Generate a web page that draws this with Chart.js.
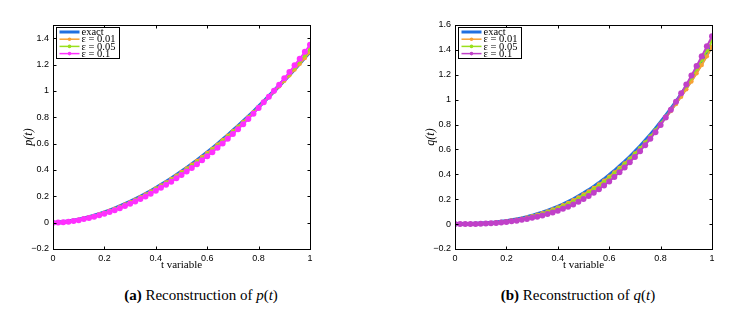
<!DOCTYPE html>
<html>
<head>
<meta charset="utf-8">
<script src="https://cdn.jsdelivr.net/npm/chart.js@4"></script>
<style>
  body { margin: 0; background: #fff; width: 753px; height: 317px; position: relative; overflow: hidden; }
  canvas { position: absolute; top: 0; }
  .cap { position: absolute; top: 287px; font-family: "Liberation Serif", "Times New Roman", serif; font-size: 15px; color: #000; white-space: nowrap; transform: translateX(-50%); }
</style>
</head>
<body>
<canvas id="chartP" width="376" height="280" style="left:0"></canvas>
<canvas id="chartQ" width="377" height="280" style="left:376px"></canvas>
<div class="cap" style="left:201px"><b>(a)</b> Reconstruction of <i>p</i>(<i>t</i>)</div>
<div class="cap" style="left:578px"><b>(b)</b> Reconstruction of <i>q</i>(<i>t</i>)</div>
<script>
// sample points in t
const tValues = [0, 0.02, 0.04, 0.06, 0.08, 0.1, 0.12, 0.14, 0.16, 0.18, 0.2, 0.22, 0.24, 0.26, 0.28, 0.3, 0.32, 0.34, 0.36, 0.38, 0.4,
  0.42, 0.44, 0.46, 0.48, 0.5, 0.52, 0.54, 0.56, 0.58, 0.6, 0.62, 0.64, 0.66, 0.68, 0.7, 0.72, 0.74, 0.76, 0.78, 0.8,
  0.82, 0.84, 0.86, 0.88, 0.9, 0.92, 0.94, 0.96, 0.98, 1];

// p(t): exact and reconstructions
const pExact = [0, 0.0014, 0.0047, 0.0095, 0.0156, 0.0231, 0.0318, 0.0417, 0.0526, 0.0647, 0.0778, 0.0919, 0.107, 0.123, 0.140, 0.158, 0.177, 0.197, 0.217, 0.239, 0.262,
  0.285, 0.309, 0.334, 0.360, 0.387, 0.414, 0.442, 0.471, 0.501, 0.532, 0.563, 0.595, 0.628, 0.662, 0.697, 0.732, 0.768, 0.804, 0.841, 0.880,
  0.919, 0.958, 0.998, 1.039, 1.081, 1.123, 1.167, 1.210, 1.255, 1.300];
const pEps001 = [0, 0.0013, 0.0045, 0.0092, 0.0152, 0.0225, 0.0310, 0.0407, 0.0514, 0.0633, 0.0762, 0.0901, 0.105, 0.121, 0.138, 0.156, 0.175, 0.194, 0.214, 0.236, 0.259,
  0.282, 0.306, 0.331, 0.357, 0.384, 0.411, 0.439, 0.468, 0.498, 0.529, 0.560, 0.592, 0.625, 0.659, 0.694, 0.729, 0.765, 0.801, 0.838, 0.877,
  0.916, 0.955, 0.995, 1.035, 1.077, 1.119, 1.162, 1.205, 1.250, 1.295];
const pEps005 = [0, 0.0014, 0.0042, 0.0086, 0.0143, 0.0213, 0.0296, 0.0390, 0.0495, 0.0611, 0.0733, 0.0869, 0.102, 0.117, 0.134, 0.151, 0.170, 0.189, 0.209, 0.230, 0.253,
  0.276, 0.299, 0.324, 0.349, 0.376, 0.402, 0.430, 0.459, 0.488, 0.519, 0.550, 0.583, 0.616, 0.650, 0.686, 0.722, 0.759, 0.796, 0.835, 0.876,
  0.916, 0.957, 0.999, 1.042, 1.087, 1.131, 1.178, 1.224, 1.272, 1.320];
const pEps01 = [0, 0.0014, 0.0037, 0.0075, 0.0126, 0.0191, 0.0268, 0.0357, 0.0456, 0.0567, 0.0678, 0.0809, 0.095, 0.110, 0.126, 0.143, 0.161, 0.180, 0.199, 0.220, 0.242,
  0.264, 0.287, 0.311, 0.336, 0.362, 0.388, 0.415, 0.444, 0.473, 0.504, 0.535, 0.568, 0.601, 0.636, 0.672, 0.709, 0.747, 0.786, 0.827, 0.870,
  0.913, 0.956, 1.001, 1.047, 1.095, 1.143, 1.194, 1.244, 1.297, 1.350];

// q(t): exact and reconstructions
const qExact = [0, 0.0001, 0.0004, 0.0011, 0.0023, 0.0041, 0.0065, 0.0096, 0.0134, 0.0182, 0.0238, 0.0303, 0.0379, 0.0464, 0.0560, 0.0668, 0.0789, 0.0919, 0.1064, 0.1220, 0.1393,
  0.1574, 0.1775, 0.1985, 0.2216, 0.2459, 0.2717, 0.2994, 0.3283, 0.3588, 0.3914, 0.4257, 0.4621, 0.4986, 0.5385, 0.5798, 0.6231, 0.6683, 0.7153, 0.7641, 0.8155,
  0.8685, 0.9231, 0.9802, 1.0398, 1.1008, 1.1642, 1.2300, 1.2982, 1.3675, 1.440];
const qEps001 = [0, 0.0001, 0.0004, 0.0010, 0.0021, 0.0038, 0.0061, 0.0090, 0.0126, 0.0172, 0.0226, 0.0288, 0.0360, 0.0441, 0.0533, 0.0637, 0.0753, 0.0878, 0.1018, 0.1169, 0.1337,
  0.1513, 0.1708, 0.1913, 0.2138, 0.2376, 0.2628, 0.2900, 0.3185, 0.3486, 0.3808, 0.4148, 0.4508, 0.4870, 0.5265, 0.5674, 0.6103, 0.6553, 0.7021, 0.7507, 0.8018,
  0.8545, 0.9088, 0.9652, 1.0240, 1.0840, 1.1465, 1.2115, 1.2790, 1.3480, 1.425];
const qEps005 = [0, 0.0001, 0.0004, 0.0011, 0.0019, 0.0037, 0.0056, 0.0083, 0.0116, 0.0160, 0.0211, 0.0267, 0.0334, 0.0410, 0.0497, 0.0596, 0.0703, 0.0820, 0.0951, 0.1094, 0.1253,
  0.1421, 0.1608, 0.1805, 0.2027, 0.2261, 0.2510, 0.2782, 0.3067, 0.3372, 0.3698, 0.4046, 0.4414, 0.4788, 0.5196, 0.5618, 0.6064, 0.6530, 0.7018, 0.7529, 0.8070,
  0.8631, 0.9209, 0.9816, 1.0452, 1.1103, 1.1782, 1.2485, 1.3212, 1.3950, 1.472];
const qEps01 = [0, 0.0001, 0.0004, 0.0011, 0.0013, 0.0031, 0.0045, 0.0066, 0.0094, 0.0132, 0.0178, 0.0223, 0.0279, 0.0344, 0.0420, 0.0508, 0.0599, 0.0699, 0.0814, 0.0940, 0.1083,
  0.1234, 0.1405, 0.1585, 0.1796, 0.2019, 0.2257, 0.2524, 0.2803, 0.3108, 0.3434, 0.3787, 0.4161, 0.4546, 0.4965, 0.5398, 0.5861, 0.6343, 0.6853, 0.7391, 0.7965,
  0.8565, 0.9181, 0.9832, 1.0518, 1.1218, 1.1952, 1.2710, 1.3492, 1.4285, 1.510];

// ticks and labels
const xTicks = [0, 0.2, 0.4, 0.6, 0.8, 1];
const yTicksP = [-0.2, 0, 0.2, 0.4, 0.6, 0.8, 1, 1.2, 1.4];
const yTicksQ = [-0.2, 0, 0.2, 0.4, 0.6, 0.8, 1, 1.2, 1.4, 1.6];
const seriesLabels = ['exact', 'ε = 0.01', 'ε = 0.05', 'ε = 0.1'];

const tickFont = { family: '"Liberation Sans", Arial, sans-serif', size: 9 };
const serif = '"Liberation Serif", "Times New Roman", serif';

function fmt(v) {
  const r = Math.round(v * 10) / 10;
  return r < 0 ? '\u2212' + Math.abs(r) : String(r);
}

function toPoints(ys) {
  return ys.map((y, i) => ({ x: tValues[i], y: y }));
}

// box, inward tick marks and legend drawn like a matlab figure
const framePlugin = {
  id: 'frame',
  afterDraw(chart) {
    const { ctx, chartArea: a, scales } = chart;
    const L = Math.round(a.left) + 0.5, R = Math.round(a.right) + 0.5;
    const T = Math.round(a.top) + 0.5, B = Math.round(a.bottom) + 0.5;
    ctx.save();
    ctx.strokeStyle = '#000';
    ctx.lineWidth = 1;
    ctx.strokeRect(L, T, R - L, B - T);
    ctx.beginPath();
    scales.x.ticks.forEach(t => {
      const x = Math.round(scales.x.getPixelForValue(t.value)) + 0.5;
      ctx.moveTo(x, B); ctx.lineTo(x, B - 3);
      ctx.moveTo(x, T); ctx.lineTo(x, T + 3);
    });
    scales.y.ticks.forEach(t => {
      const y = Math.round(scales.y.getPixelForValue(t.value)) + 0.5;
      ctx.moveTo(L, y); ctx.lineTo(L + 3, y);
      ctx.moveTo(R, y); ctx.lineTo(R - 3, y);
    });
    ctx.stroke();

    // legend
    const bx = L + 3, by = T + 2, bw = 63, bh = 31;
    ctx.fillStyle = '#fff';
    ctx.fillRect(bx, by, bw, bh);
    ctx.strokeRect(bx, by, bw, bh);
    ctx.font = '10.5px ' + serif;
    ctx.textBaseline = 'middle';
    chart.data.datasets.forEach((ds, i) => {
      const y = by + 4.5 + i * 7.2;
      ctx.strokeStyle = ds.borderColor;
      ctx.lineWidth = i === 0 ? 3 : 1.5;
      ctx.beginPath();
      ctx.moveTo(bx + 3, y); ctx.lineTo(bx + 23, y);
      ctx.stroke();
      if (ds.pointRadius > 0) {
        ctx.fillStyle = ds.borderColor;
        ctx.beginPath();
        ctx.arc(bx + 13, y, 1.8, 0, Math.PI * 2);
        ctx.fill();
      }
      ctx.fillStyle = '#000';
      ctx.fillText(ds.label, bx + 25, y + 0.5);
    });
    ctx.restore();
  }
};

function makeChart(id, series, yTicks, yMax, yTitle, padLeft, padRight, magenta) {
  const colors = ['#2170e0', '#f7a234', '#99e01c', magenta];
  const datasets = series.map((ys, i) => ({
    label: seriesLabels[i],
    data: toPoints(ys),
    borderColor: colors[i],
    backgroundColor: colors[i],
    borderWidth: i === 0 ? 4 : 2,
    pointRadius: i === 0 ? 0 : (i === 3 ? 3 : 2.2),
    pointBorderWidth: 0,
    order: 3 - i,
    tension: 0
  }));
  return new Chart(document.getElementById(id), {
    type: 'line',
    data: { datasets: datasets },
    options: {
      responsive: false,
      animation: false,
      layout: { padding: { left: padLeft, right: padRight, top: 25, bottom: 8 } },
      plugins: { legend: { display: false }, tooltip: { enabled: false } },
      scales: {
        x: {
          type: 'linear', min: 0, max: 1,
          afterBuildTicks: s => { s.ticks = xTicks.map(v => ({ value: v })); },
          afterFit: s => { s.height = 23; },
          grid: { display: false, drawTicks: false },
          border: { display: false },
          ticks: { padding: 4, color: '#000', font: tickFont, callback: fmt, autoSkip: false, maxRotation: 0 },
          title: { display: true, text: 't variable', color: '#000', padding: 0, font: { family: serif, size: 11, lineHeight: 1.2 } }
        },
        y: {
          type: 'linear', min: -0.2, max: yMax,
          afterBuildTicks: s => { s.ticks = yTicks.map(v => ({ value: v })); },
          afterFit: s => { s.width = 31; },
          grid: { display: false, drawTicks: false },
          border: { display: false },
          ticks: { padding: 4, color: '#000', font: tickFont, callback: fmt, autoSkip: false },
          title: { display: true, text: yTitle, color: '#000', padding: 0, font: { family: serif, size: 12, style: 'italic', lineHeight: 1.2 } }
        }
      }
    },
    plugins: [framePlugin]
  });
}

makeChart('chartP', [pExact, pEps001, pEps005, pEps01], yTicksP, 1.5, 'p(t)', 22, 66, '#ff30ff');
makeChart('chartQ', [qExact, qEps001, qEps005, qEps01], yTicksQ, 1.6, 'q(t)', 48, 41, '#c040c8');
</script>
</body>
</html>
